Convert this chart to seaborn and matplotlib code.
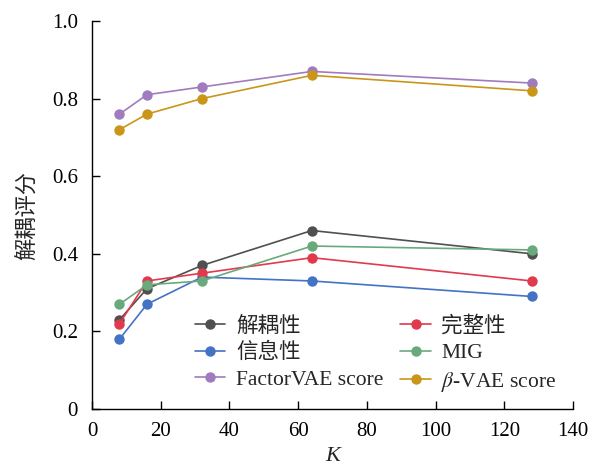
import matplotlib
matplotlib.use("Agg")
import matplotlib.pyplot as plt
import seaborn as sns
import pandas as pd

K = [8, 16, 32, 64, 128]
disentanglement = [0.23, 0.31, 0.37, 0.46, 0.40]
informativeness = [0.18, 0.27, 0.34, 0.33, 0.29]
factorvae = [0.76, 0.81, 0.83, 0.87, 0.84]
completeness = [0.22, 0.33, 0.35, 0.39, 0.33]
mig = [0.27, 0.32, 0.33, 0.42, 0.41]
betavae = [0.72, 0.76, 0.80, 0.86, 0.82]

labels = ["解耦性", "信息性", "FactorVAE score", "完整性", "MIG", r"$\beta$-VAE score"]
series = [disentanglement, informativeness, factorvae, completeness, mig, betavae]
colors = ["#505050", "#4472c4", "#a07cbf", "#e03a4c", "#68aa7c", "#c9961a"]

rows = []
for lab, vals in zip(labels, series):
    for k, v in zip(K, vals):
        rows.append({"K": k, "score": v, "metric": lab})
df = pd.DataFrame(rows)

sns.set_theme(style="ticks")
plt.rcParams["font.family"] = ["Liberation Serif", "Noto Sans CJK SC"]
plt.rcParams["mathtext.fontset"] = "stix"
plt.rcParams["font.size"] = 15

fig = plt.figure(figsize=(5.94, 4.66), dpi=100)
ax = fig.add_axes([92 / 594, 1 - 409 / 466, (573 - 92) / 594, (409 - 21) / 466])

sns.lineplot(data=df, x="K", y="score", hue="metric", hue_order=labels,
             palette=dict(zip(labels, colors)), marker="o", markersize=7.5,
             markeredgewidth=0, linewidth=1.2, ax=ax, legend=True)

ax.set_xlim(0, 140)
ax.set_ylim(0, 1.0)
ax.set_xticks(range(0, 141, 20))
ax.set_yticks([0, 0.2, 0.4, 0.6, 0.8, 1.0])
ax.set_yticklabels(["0", "0.2", "0.4", "0.6", "0.8", "1.0"])
ax.tick_params(direction="in", length=6, width=1, labelsize=15, colors="black")
ax.tick_params(axis="x", pad=9)
ax.tick_params(axis="y", pad=10)
for s in ["top", "right"]:
    ax.spines[s].set_visible(False)
for s in ["left", "bottom"]:
    ax.spines[s].set_linewidth(1.0)
    ax.spines[s].set_color("black")

ax.set_xlabel("K", fontsize=16, fontstyle="italic", labelpad=5)
ax.set_ylabel("解耦评分", fontsize=16, labelpad=10)

handles, labs = ax.get_legend_handles_labels()
ax.legend(handles, labs, ncol=2, frameon=False, fontsize=15.5,
          loc="upper left", bbox_to_anchor=(0.214, 0.24),
          handlelength=1.4, handletextpad=0.5, columnspacing=0.8,
          labelspacing=0.3, borderaxespad=0, borderpad=0)

fig.savefig("out.png", dpi=100)
